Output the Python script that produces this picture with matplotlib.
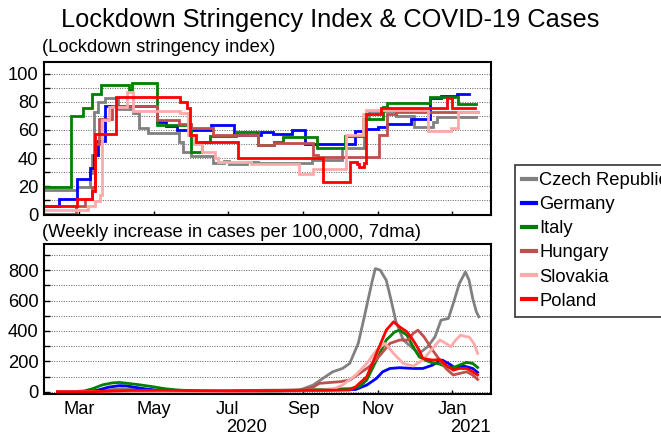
import matplotlib
matplotlib.use("Agg")
import matplotlib.pyplot as plt
import matplotlib.dates as mdates
import matplotlib.transforms as mtransforms
from matplotlib.lines import Line2D
import pandas as pd

plt.rcParams['font.family'] = ['Liberation Sans', 'DejaVu Sans']

countries = ['Czech Republic', 'Germany', 'Italy', 'Hungary', 'Slovakia', 'Poland']
colors = ['#808080', '#0000FF', '#008000', '#C0504D', '#FFAAAA', '#FF0000']

# ---- Lockdown stringency index (change points, step series) ----
cz_s_dates = ['2020-02-01', '2020-02-28', '2020-03-10', '2020-03-11', '2020-03-13', '2020-03-16',
              '2020-03-22', '2020-04-02', '2020-04-14', '2020-04-19', '2020-04-26', '2020-05-22',
              '2020-05-25', '2020-06-01', '2020-06-19', '2020-06-28', '2020-07-02', '2020-07-17',
              '2020-07-26', '2020-09-08', '2020-10-03', '2020-10-21', '2020-10-25', '2020-11-16',
              '2020-12-01', '2020-12-16', '2020-12-20', '2021-01-21']
cz_s_vals = [17.3, 19.4, 29.0, 42.0, 72.8, 79.9, 82.4, 74.5, 71.7, 61.0, 57.5, 51.6,
             44.4, 41.5, 36.3, 37.8, 35.5, 37.4, 36.2, 38.5, 47.2, 68.0, 73.5, 70.0,
             62.2, 65.7, 69.3, 69.3]

de_s_dates = ['2020-02-01', '2020-02-13', '2020-02-28', '2020-03-10', '2020-03-13', '2020-03-16',
              '2020-03-22', '2020-05-04', '2020-05-11', '2020-05-20', '2020-06-17', '2020-07-06',
              '2020-07-28', '2020-08-07', '2020-08-23', '2020-09-02', '2020-10-13', '2020-10-22',
              '2020-11-01', '2020-11-09', '2020-11-28', '2020-12-14', '2020-12-23', '2021-01-05',
              '2021-01-15']
de_s_vals = [5.6, 11.1, 25.0, 33.0, 42.0, 52.0, 76.9, 65.7, 62.5, 60.0, 63.4, 56.5,
             58.3, 57.4, 59.8, 49.9, 59.1, 60.5, 62.2, 64.5, 68.0, 82.7, 84.2, 85.8,
             85.8]

it_s_dates = ['2020-02-01', '2020-02-23', '2020-03-04', '2020-03-11', '2020-03-19', '2020-04-11',
              '2020-04-13', '2020-05-04', '2020-06-01', '2020-06-10', '2020-06-16', '2020-07-08',
              '2020-07-26', '2020-08-08', '2020-08-15', '2020-09-12', '2020-10-05', '2020-10-20',
              '2020-11-05', '2020-11-09', '2020-12-14', '2021-01-06', '2021-01-21']
it_s_vals = [19.4, 69.9, 75.2, 85.2, 91.7, 88.0, 93.5, 63.5, 44.4, 51.5, 55.8, 58.5,
             49.6, 51.5, 55.0, 47.3, 55.6, 68.0, 76.4, 79.4, 83.5, 78.7, 78.7]

hu_s_dates = ['2020-02-01', '2020-02-27', '2020-03-06', '2020-03-11', '2020-03-14', '2020-03-17',
              '2020-03-28', '2020-05-04', '2020-05-22', '2020-06-01', '2020-06-19', '2020-07-26',
              '2020-08-08', '2020-09-09', '2020-09-13', '2020-11-02', '2020-11-09', '2020-11-16',
              '2021-01-22']
hu_s_vals = [0.0, 5.6, 11.1, 19.4, 50.0, 68.0, 76.9, 67.0, 64.5, 61.5, 56.5, 49.5,
             51.0, 42.0, 40.9, 56.0, 71.6, 72.8, 72.8]

sk_s_dates = ['2020-02-01', '2020-03-08', '2020-03-14', '2020-03-18', '2020-03-20', '2020-03-25',
              '2020-04-09', '2020-04-14', '2020-05-23', '2020-05-29', '2020-06-03', '2020-06-10',
              '2020-06-20', '2020-06-23', '2020-07-20', '2020-08-28', '2020-09-09', '2020-10-06',
              '2020-10-20', '2020-10-22', '2020-12-12', '2020-12-31', '2021-01-06', '2021-01-22']
sk_s_vals = [2.8, 5.6, 9.3, 13.9, 66.7, 75.9, 87.0, 73.3, 72.0, 56.3, 50.0, 44.4,
             39.7, 37.4, 35.5, 28.5, 32.0, 56.3, 71.6, 74.0, 59.1, 61.5, 72.8, 72.8]

pl_s_dates = ['2020-02-01', '2020-02-28', '2020-03-11', '2020-03-14', '2020-03-31', '2020-05-23',
              '2020-05-28', '2020-05-31', '2020-06-05', '2020-07-09', '2020-09-17', '2020-10-09',
              '2020-10-15', '2020-10-17', '2020-10-21', '2020-10-22', '2020-11-04', '2020-12-28',
              '2021-01-01', '2021-01-20']
pl_s_vals = [5.6, 11.1, 16.7, 57.4, 83.3, 80.1, 75.2, 56.0, 51.6, 40.2, 23.2, 37.4,
             35.5, 33.8, 36.2, 71.6, 75.2, 82.4, 75.2, 75.2]

# ---- Weekly increase in cases per 100,000 (7dma) ----
cz_c_dates = ['2020-02-12', '2020-03-10', '2020-03-25', '2020-04-05', '2020-04-20', '2020-05-10',
              '2020-06-10', '2020-07-05', '2020-08-01', '2020-08-29', '2020-09-09', '2020-09-17',
              '2020-09-25', '2020-10-03', '2020-10-09', '2020-10-16', '2020-10-21', '2020-10-27',
              '2020-10-30', '2020-11-03', '2020-11-08', '2020-11-12', '2020-11-16', '2020-11-22',
              '2020-11-30', '2020-12-05', '2020-12-12', '2020-12-18', '2020-12-23', '2020-12-29',
              '2021-01-02', '2021-01-07', '2021-01-12', '2021-01-15', '2021-01-18', '2021-01-21',
              '2021-01-23']
cz_c_vals = [0, 1, 12, 20, 12, 5, 3, 6, 10, 11, 44, 88,
             131, 153, 186, 318, 493, 712, 810, 800, 734, 602, 460, 340,
             285, 252, 296, 361, 471, 482, 580, 712, 788, 734, 613, 526,
             493]

de_c_dates = ['2020-02-12', '2020-03-05', '2020-03-15', '2020-03-25', '2020-04-03', '2020-04-08',
              '2020-04-15', '2020-04-25', '2020-05-05', '2020-05-20', '2020-06-10', '2020-07-01',
              '2020-08-01', '2020-08-29', '2020-10-14', '2020-10-23', '2020-10-31', '2020-11-05',
              '2020-11-11', '2020-11-19', '2020-11-30', '2020-12-08', '2020-12-16', '2020-12-22',
              '2020-12-24', '2020-12-30', '2021-01-04', '2021-01-10', '2021-01-13', '2021-01-18',
              '2021-01-22']
de_c_vals = [0, 0.5, 8, 30, 40, 39, 30, 18, 9, 5, 3, 4,
             5, 7, 15, 44, 88, 131, 153, 158, 153, 153, 175, 204,
             208, 182, 153, 169, 164, 153, 127]

it_c_dates = ['2020-02-12', '2020-02-25', '2020-03-05', '2020-03-12', '2020-03-20', '2020-03-28',
              '2020-04-03', '2020-04-10', '2020-04-20', '2020-05-01', '2020-05-10', '2020-05-20',
              '2020-06-01', '2020-06-15', '2020-07-01', '2020-07-20', '2020-08-10', '2020-08-29',
              '2020-10-09', '2020-10-17', '2020-10-23', '2020-10-31', '2020-11-08', '2020-11-15',
              '2020-11-19', '2020-11-25', '2020-11-30', '2020-12-05', '2020-12-11', '2020-12-16',
              '2020-12-22', '2020-12-27', '2021-01-02', '2021-01-07', '2021-01-13', '2021-01-18',
              '2021-01-22']
it_c_vals = [0, 1, 5, 20, 45, 58, 61, 55, 45, 32, 20, 12,
             6, 4, 2, 2, 4, 11, 20, 33, 77, 208, 340, 394,
             405, 372, 296, 230, 204, 190, 182, 164, 158, 175, 193, 186,
             160]

hu_c_dates = ['2020-02-12', '2020-03-15', '2020-04-10', '2020-05-10', '2020-07-01', '2020-08-29',
              '2020-09-09', '2020-09-14', '2020-09-23', '2020-10-01', '2020-10-09', '2020-10-17',
              '2020-10-25', '2020-11-03', '2020-11-11', '2020-11-19', '2020-11-26', '2020-11-30',
              '2020-12-04', '2020-12-09', '2020-12-16', '2020-12-22', '2020-12-27', '2021-01-02',
              '2021-01-07', '2021-01-13', '2021-01-18', '2021-01-22']
hu_c_vals = [0, 1, 5, 3, 2, 11, 30, 55, 61, 66, 77, 120,
             164, 241, 318, 340, 340, 383, 405, 361, 274, 208, 153, 110,
             120, 131, 110, 81]

sk_c_dates = ['2020-02-12', '2020-03-15', '2020-04-10', '2020-05-10', '2020-07-01', '2020-08-29',
              '2020-09-25', '2020-10-03', '2020-10-14', '2020-10-23', '2020-10-31', '2020-11-07',
              '2020-11-14', '2020-11-22', '2020-11-30', '2020-12-08', '2020-12-16', '2020-12-22',
              '2020-12-27', '2020-12-31', '2021-01-04', '2021-01-08', '2021-01-13', '2021-01-15',
              '2021-01-19', '2021-01-22']
sk_c_vals = [0, 1, 4, 2, 1, 5, 15, 44, 110, 186, 274, 318,
             252, 186, 169, 208, 285, 340, 318, 296, 340, 372, 361, 361,
             318, 252]

pl_c_dates = ['2020-02-12', '2020-03-15', '2020-04-10', '2020-05-10', '2020-07-01', '2020-08-29',
              '2020-10-09', '2020-10-14', '2020-10-23', '2020-10-31', '2020-11-08', '2020-11-14',
              '2020-11-19', '2020-11-25', '2020-11-30', '2020-12-05', '2020-12-08', '2020-12-16',
              '2020-12-22', '2020-12-27', '2021-01-02', '2021-01-07', '2021-01-13', '2021-01-18',
              '2021-01-22']
pl_c_vals = [0, 1, 8, 9, 5, 8, 11, 33, 99, 252, 405, 460,
             427, 394, 340, 274, 219, 208, 212, 175, 142, 153, 153, 131,
             110]

stringency = [(cz_s_dates, cz_s_vals), (de_s_dates, de_s_vals), (it_s_dates, it_s_vals),
              (hu_s_dates, hu_s_vals), (sk_s_dates, sk_s_vals), (pl_s_dates, pl_s_vals)]
cases = [(cz_c_dates, cz_c_vals), (de_c_dates, de_c_vals), (it_c_dates, it_c_vals),
         (hu_c_dates, hu_c_vals), (sk_c_dates, sk_c_vals), (pl_c_dates, pl_c_vals)]

W, H = 661, 436
fig = plt.figure(figsize=(W / 100, H / 100), dpi=100)
FS = 13.2


def px_axes(left, top, right, bottom):
    return fig.add_axes([left / W, 1 - bottom / H, (right - left) / W, (bottom - top) / H])


ax1 = px_axes(44, 62.3, 491, 215.3)
ax2 = px_axes(44, 244, 491, 393.7)

lw = 2.0
for (d, v), c in zip(stringency, colors):
    ax1.plot(pd.to_datetime(d), v, color=c, lw=lw, drawstyle='steps-post',
             solid_joinstyle='miter')
for (d, v), c in zip(cases, colors):
    ax2.plot(pd.to_datetime(d), v, color=c, lw=lw, solid_joinstyle='round')

xmin, xmax = pd.Timestamp('2020-02-01'), pd.Timestamp('2021-02-02')
month_ticks = pd.to_datetime(['2020-03-01', '2020-05-01', '2020-07-01',
                              '2020-09-01', '2020-11-01', '2021-01-01'])

for ax, ylim, major, minor in [(ax1, (-0.7, 108), range(0, 101, 20), range(0, 101, 10)),
                               (ax2, (-13, 972), range(0, 801, 200), range(0, 901, 100))]:
    ax.set_xlim(xmin, xmax)
    ax.set_ylim(*ylim)
    ax.set_yticks(list(major))
    ax.set_yticks(list(minor), minor=True)
    ax.set_xticks(month_ticks)
    ax.xaxis.set_major_formatter(mdates.DateFormatter('%b'))
    ax.grid(axis='y', which='both', color='#606060', linestyle=(0, (1, 1.5)), linewidth=0.7)
    ax.set_axisbelow(True)
    ax.tick_params(axis='both', which='both', direction='in', length=4, width=1,
                   labelsize=FS, pad=4, color='black')
    ax.tick_params(axis='x', which='major', length=3)
    for s in ax.spines.values():
        s.set_linewidth(1.5)
        s.set_color('black')

ax1.tick_params(axis='x', labelbottom=False)
ax2.tick_params(axis='x', pad=5)

trans = mtransforms.blended_transform_factory(ax2.transData, ax2.transAxes)
ax2.text(pd.Timestamp('2020-07-16'), -0.225, '2020', transform=trans, ha='center',
         va='center', fontsize=FS)
ax2.text(pd.Timestamp('2021-01-16'), -0.225, '2021', transform=trans, ha='center',
         va='center', fontsize=FS)

fig.text(0.5, 1 - 20 / H, 'Lockdown Stringency Index & COVID-19 Cases', ha='center',
         va='center', fontsize=18.3)
fig.text(42 / W, 1 - 48 / H, '(Lockdown stringency index)', ha='left', va='center',
         fontsize=FS)
fig.text(42 / W, 1 - 232 / H, '(Weekly increase in cases per 100,000, 7dma)', ha='left',
         va='center', fontsize=FS)

handles = [Line2D([0], [0], color=c, lw=3) for c in colors]
leg = fig.legend(handles, countries, loc='upper left', bbox_to_anchor=(515 / W, 1 - 165 / H),
                 borderaxespad=0, frameon=True, fancybox=False, edgecolor='black',
                 fontsize=FS, handlelength=0.75, handletextpad=0.2, borderpad=0.38,
                 labelspacing=0.39)
leg.get_frame().set_linewidth(1.2)

fig.savefig('out.png', dpi=100)
